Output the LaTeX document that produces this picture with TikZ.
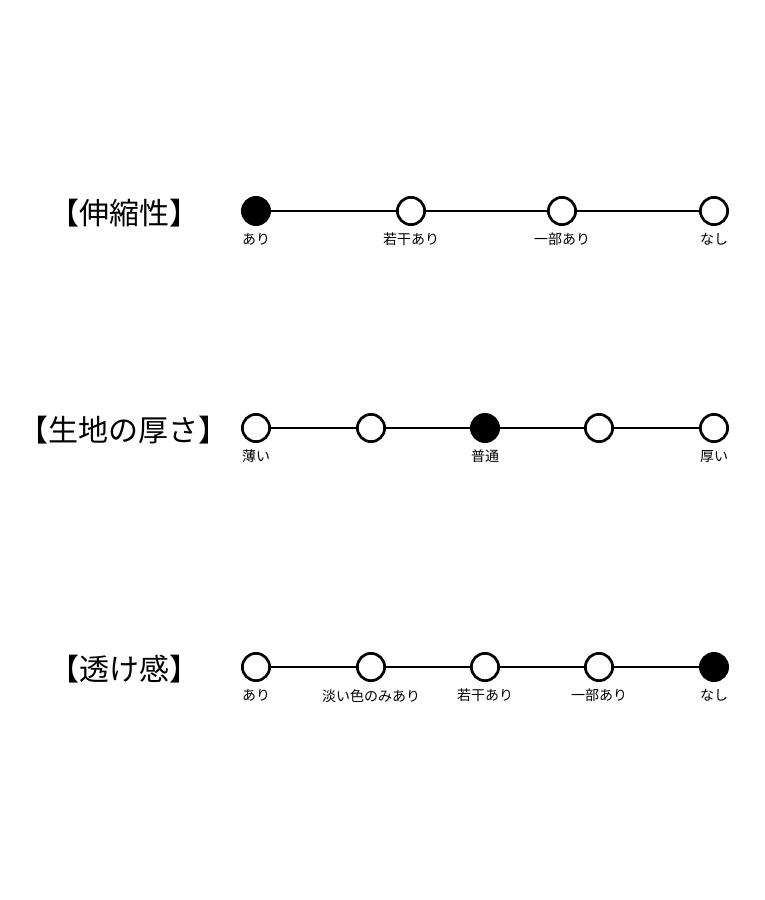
\documentclass[tikz,border=0pt]{standalone}
\usepackage{fontspec}
\newfontfamily\jpfont{Noto Sans CJK JP}
\usetikzlibrary{positioning}
\begin{document}
\begin{tikzpicture}[x=1pt,y=-1pt,
    dot/.style={circle,draw,line width=2.7pt,minimum size=27.3pt,inner sep=0pt,fill=white},
    full/.style={dot,fill=black},
    lbl/.style={font=\jpfont\fontsize{14}{14}\selectfont,inner sep=0pt},
    ttl/.style={font=\jpfont\fontsize{30}{30}\selectfont,inner sep=0pt}]
  \useasboundingbox[fill=white] (0,0) rectangle (765,900);
  % stretch
  \node[ttl] (t1) at (124,213) {【伸縮性】};
  \draw
    (256,211) node[full] (a1){}
    (411,211) node[dot] (a2){}
    (562,211) node[dot] (a3){}
    (714,211) node[dot] (a4){};
  \node[lbl,below=7pt of a1] (la1) {あり};
  \node[lbl,below=7pt of a2] (la2) {若干あり};
  \node[lbl,below=7pt of a3] (la3) {一部あり};
  \node[lbl,below=7pt of a4] (la4) {なし};
  % thickness
  \node[ttl] (t2) at (124,430) {【生地の厚さ】};
  \draw
    (256,428) node[dot] (b1){}
    (371,428) node[dot] (b2){}
    (485,428) node[full] (b3){}
    (599,428) node[dot] (b4){}
    (714,428) node[dot] (b5){};
  \node[lbl,below=7pt of b1] (lb1) {薄い};
  \node[lbl,below=7pt of b3] (lb3) {普通};
  \node[lbl,below=7pt of b5] (lb5) {厚い};
  % sheerness
  \node[ttl] (t3) at (124,669) {【透け感】};
  \draw
    (256,667) node[dot] (c1){}
    (371,667) node[dot] (c2){}
    (485,667) node[dot] (c3){}
    (599,667) node[dot] (c4){}
    (714,667) node[full] (c5){};
  \node[lbl,below=7pt of c1] (lc1) {あり};
  \node[lbl,below=7pt of c2] (lc2) {淡い色のみあり};
  \node[lbl,below=7pt of c3] (lc3) {若干あり};
  \node[lbl,below=7pt of c4] (lc4) {一部あり};
  \node[lbl,below=7pt of c5] (lc5) {なし};
  \begin{scope}[line width=2.7pt]
    \draw (a1) to (a2);
    \draw (a2) to (a3);
    \draw (a3) to (a4);
    \draw (b1) to (b2);
    \draw (b2) to (b3);
    \draw (b3) to (b4);
    \draw (b4) to (b5);
    \draw (c1) to (c2);
    \draw (c2) to (c3);
    \draw (c3) to (c4);
    \draw (c4) to (c5);
  \end{scope}
\end{tikzpicture}
\end{document}
